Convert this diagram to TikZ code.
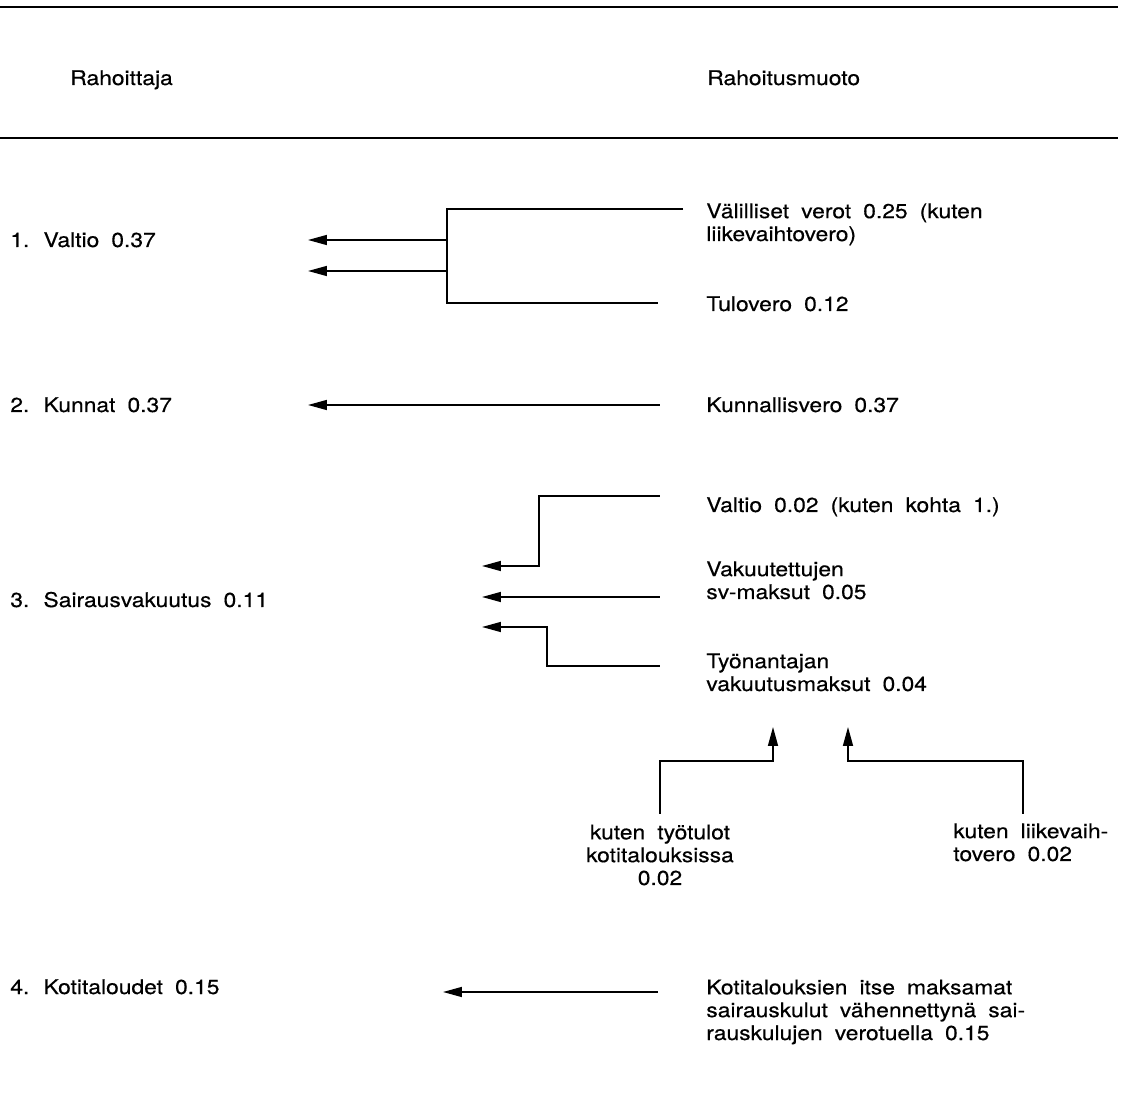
\documentclass[tikz,border=0pt]{standalone}
\usepackage{fontspec}
\setmainfont{TeX Gyre Heros}[FakeStretch=1.13,WordSpace=1.9,FakeBold=0.4]
\usetikzlibrary{arrows.meta}
\tikzset{
  fund/.style={anchor=base west,inner sep=0pt,align=left,font=\fontsize{11.5}{13}\selectfont},
  rule/.style={line width=1.1pt},
  link/.style={line width=0.9pt},
  tofund/.style={link,{Triangle[length=0.38cm,width=0.2cm,sep=0.1cm]}-},
}
\begin{document}
\begin{tikzpicture}[x=0.02cm,y=-0.02cm]
  \useasboundingbox (0,0) rectangle (1130,1114);
  \draw[rule] (0,7) -- (1118,7);
  \draw[rule] (0,138) -- (1118,138);
  \node[fund] (hpayer) at (70,85) {Rahoittaja};
  \node[fund] (hform) at (707,85) {Rahoitusmuoto};

  % rahoittajat
  \node[fund] (valtio) at (10,247) {1. Valtio 0.37};
  \node[fund] (kunnat) at (10,412) {2. Kunnat 0.37};
  \node[fund] (sv) at (10,607) {3. Sairausvakuutus 0.11};
  \node[fund] (koti) at (10,994) {4. Kotitaloudet 0.15};

  % rahoitusmuodot (base = last line)
  \node[fund] (vvero) at (706,241) {Välilliset verot 0.25 (kuten\\liikevaihtovero)};
  \node[fund] (tvero) at (706,311) {Tulovero 0.12};
  \node[fund] (kvero) at (706,412) {Kunnallisvero 0.37};
  \node[fund] (svvaltio) at (706,512) {Valtio 0.02 (kuten kohta 1.)};
  \node[fund] (svmaksu) at (706,599) {Vakuutettujen\\sv-maksut 0.05};
  \node[fund] (tamaksu) at (706,691) {Työnantajan\\vakuutusmaksut 0.04};
  \node[fund,anchor=base,align=center] (tyotulo) at (660,885) {kuten työtulot\\kotitalouksissa\\0.02};
  \node[fund] (lvero) at (953,861) {kuten liikevaih-\\tovero 0.02};
  \node[fund] (omat) at (706,1040) {Kotitalouksien itse maksamat\\sairauskulut vähennettynä sai-\\rauskulujen verotuella 0.15};

  % valtio
  \coordinate (tip1a) at (303,240);
  \coordinate (tip1b) at (303,271);
  \coordinate (br1t) at (447,209);
  \coordinate (br1b) at (447,303);
  \coordinate (end1t) at (683,209);
  \coordinate (end1b) at (658,303);
  \draw[link] (end1t) -- (br1t) -- (br1b) -- (end1b);
  \draw[tofund] (tip1a) -- (tip1a -| br1t);
  \draw[tofund] (tip1b) -- (tip1b -| br1t);

  % kunnat
  \coordinate (tip2) at (303,405);
  \coordinate (end2) at (660,405);
  \draw[tofund] (tip2) -- (end2);

  % sairausvakuutus
  \coordinate (tip3a) at (477,566);
  \coordinate (tip3b) at (477,597);
  \coordinate (tip3c) at (477,627);
  \coordinate (br3a) at (539,496);
  \coordinate (br3c) at (547,666);
  \coordinate (end3a) at (660,496);
  \coordinate (end3b) at (660,597);
  \coordinate (end3c) at (660,666);
  \draw[tofund] (tip3a) -| (br3a) -- (end3a);
  \draw[tofund] (tip3b) -- (end3b);
  \draw[tofund] (tip3c) -| (br3c) -- (end3c);

  % tyonantajan maksut
  \coordinate (tip5a) at (773,722);
  \coordinate (tip5b) at (848,722);
  \coordinate (br5a) at (660,761);
  \coordinate (br5b) at (1023,761);
  \coordinate (end5a) at (660,814);
  \coordinate (end5b) at (1023,814);
  \draw[tofund] (tip5a) |- (br5a) -- (end5a);
  \draw[tofund] (tip5b) |- (br5b) -- (end5b);

  % kotitaloudet
  \coordinate (tip4) at (438,992);
  \coordinate (end4) at (658,992);
  \draw[tofund] (tip4) -- (end4);
\end{tikzpicture}
\end{document}
